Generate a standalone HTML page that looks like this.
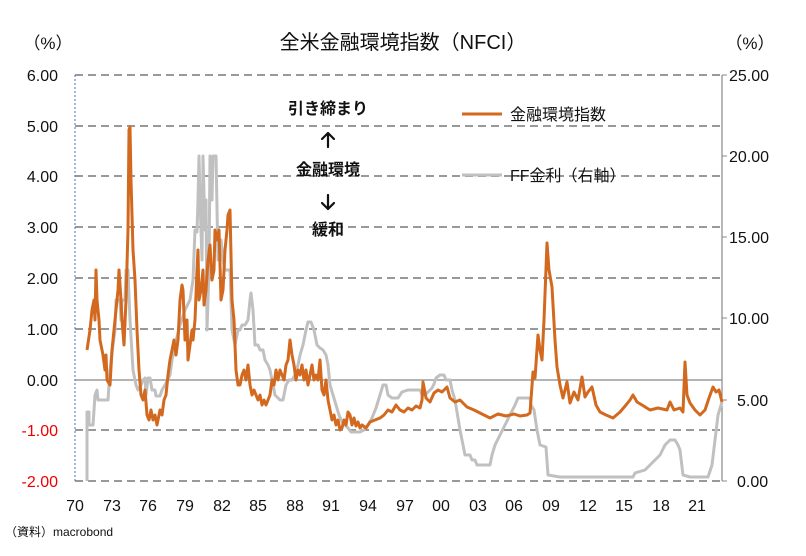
<!DOCTYPE html>
<html><head><meta charset="utf-8"><style>
body{margin:0;background:#fff}
svg{display:block;font-family:"Liberation Sans","Noto Sans CJK JP",sans-serif}
</style></head><body>
<svg width="806" height="556" viewBox="0 0 806 556">
<rect width="806" height="556" fill="#fff"/>
<text x="403" y="49" text-anchor="middle" font-size="20" fill="#111">全米金融環境指数（NFCI）</text>
<text x="48" y="49" text-anchor="middle" font-size="17" fill="#111">（%）</text>
<text x="750" y="49" text-anchor="middle" font-size="17" fill="#111">（%）</text>
<g stroke="#999" stroke-width="2" stroke-dasharray="8,5">
<line x1="75" y1="75" x2="722" y2="75"/><line x1="75" y1="126" x2="722" y2="126"/>
<line x1="75" y1="176" x2="722" y2="176"/><line x1="75" y1="227" x2="722" y2="227"/>
<line x1="75" y1="278" x2="722" y2="278"/><line x1="75" y1="329" x2="722" y2="329"/>
<line x1="75" y1="430" x2="722" y2="430"/><line x1="75" y1="481" x2="722" y2="481"/>
</g>
<line x1="75" y1="380" x2="722" y2="380" stroke="#888" stroke-width="1.2"/>
<line x1="75" y1="75" x2="75" y2="481" stroke="#4472c4" stroke-width="1" stroke-dasharray="2,2"/>
<line x1="722" y1="75" x2="722" y2="481" stroke="#888" stroke-width="1.2"/>
<g stroke="#888"><line x1="722" y1="75" x2="727" y2="75"/><line x1="722" y1="156" x2="727" y2="156"/><line x1="722" y1="237" x2="727" y2="237"/><line x1="722" y1="318" x2="727" y2="318"/><line x1="722" y1="400" x2="727" y2="400"/><line x1="722" y1="481" x2="727" y2="481"/></g>
<g font-size="16" text-anchor="end" fill="#111">
<text x="58" y="81">6.00</text><text x="58" y="132">5.00</text><text x="58" y="182">4.00</text><text x="58" y="233">3.00</text><text x="58" y="284">2.00</text><text x="58" y="335">1.00</text><text x="58" y="386">0.00</text><text x="58" y="436" fill="#e00">-1.00</text><text x="58" y="487" fill="#e00">-2.00</text>
</g>
<g font-size="16" fill="#111">
<text x="729" y="81">25.00</text><text x="729" y="162">20.00</text><text x="729" y="243">15.00</text><text x="729" y="324">10.00</text><text x="737" y="406">5.00</text><text x="737" y="487">0.00</text>
</g>
<g font-size="16" text-anchor="middle" fill="#111">
<text x="75" y="511">70</text><text x="112" y="511">73</text><text x="148" y="511">76</text><text x="185" y="511">79</text><text x="222" y="511">82</text><text x="258" y="511">85</text><text x="295" y="511">88</text><text x="331" y="511">91</text><text x="368" y="511">94</text><text x="405" y="511">97</text><text x="441" y="511">00</text><text x="478" y="511">03</text><text x="514" y="511">06</text><text x="551" y="511">09</text><text x="588" y="511">12</text><text x="624" y="511">15</text><text x="661" y="511">18</text><text x="697" y="511">21</text>
</g>
<text x="5" y="536" font-size="12" fill="#111">（資料）macrobond</text>
<polyline fill="none" stroke="#c0c0c0" stroke-width="3" stroke-linejoin="round" points="87,481 87,412 89,412 89,425 93,425 95,395 97,390 98,400 108,400 110,370 113,345 115,330 116,300 120,300 121,320 122,300 125,300 126,270 128,270 130,320 133,370 136,385 138,390 141,385 143,380 145,378 146,395 148,378 150,378 152,390 155,390 156,396 160,396 162,390 165,385 170,375 172,360 175,345 180,325 185,310 190,300 193,280 195,230 197,232 198,200 199,156 200,200 202,260 203,156 205,230 206,200 207,330 209,270 210,156 212,200 213,156 216,156 218,260 221,240 223,260 225,270 230,270 232,330 235,345 238,330 240,330 242,325 245,325 248,320 250,300 251,293 253,310 255,345 258,345 260,350 263,350 265,360 268,365 270,370 272,380 275,395 280,400 283,400 286,385 289,380 292,380 295,375 298,365 300,355 303,345 306,330 308,322 311,322 314,330 317,345 320,348 323,350 326,355 328,365 330,385 333,395 336,405 339,415 342,422 345,425 348,428 351,432 360,432 364,430 368,425 372,418 376,408 380,395 383,385 386,385 388,395 392,398 398,398 402,392 408,390 420,390 422,395 425,395 428,392 432,388 434,384 436,378 440,375 444,375 446,380 450,380 452,390 455,400 460,430 465,455 470,455 472,460 475,460 477,465 490,465 492,455 495,445 500,435 505,425 510,415 515,405 518,398 530,398 531,405 534,410 537,430 540,445 546,447 548,475 560,477 633,477 635,473 645,470 650,465 655,460 660,455 665,445 670,440 675,440 678,445 680,450 683,475 690,477 708,477 712,465 715,440 718,415 722,402"/>
<polyline fill="none" stroke="#d2691e" stroke-width="3" stroke-linejoin="round" points="87,350 90,330 92,310 94,300 95,320 96,270 97,300 99,320 100,340 103,355 105,370 106,355 107,380 110,385 112,350 114,330 116,310 118,290 119,270 121,300 122,320 124,345 126,300 128,230 129,130 130,127 131,180 133,250 135,280 137,330 139,370 141,395 143,400 145,390 147,415 149,420 151,410 153,420 155,415 157,425 160,410 162,415 164,400 166,395 168,375 170,360 172,350 174,340 176,355 178,340 180,300 182,285 183,290 185,340 187,320 188,360 190,345 192,330 193,340 195,320 197,270 198,250 199,300 201,290 203,270 204,305 206,290 208,260 210,245 212,280 214,270 215,230 217,240 219,230 221,300 223,290 225,250 227,230 228,215 230,210 232,300 234,320 236,370 238,385 240,385 242,375 244,370 246,380 248,365 250,385 252,395 254,390 256,395 258,400 260,395 262,405 264,400 266,405 268,400 270,395 272,380 274,385 276,370 278,380 280,370 282,375 284,380 286,365 288,360 290,340 292,355 294,365 296,380 298,370 300,375 302,365 304,380 306,370 308,385 310,375 312,365 314,380 316,375 318,380 320,360 322,390 324,395 326,380 328,400 330,410 332,420 334,415 336,425 338,420 340,430 342,428 344,420 346,425 348,412 350,415 352,425 354,418 356,426 358,422 360,428 362,425 366,428 370,422 375,420 380,418 384,415 388,410 392,412 396,405 400,410 404,412 408,408 412,410 416,406 420,408 422,400 423,382 426,398 430,402 434,393 438,390 442,392 447,387 450,398 455,402 460,400 467,407 474,410 482,414 490,418 498,414 506,416 514,414 520,416 527,415 530,413 533,372 535,378 538,335 540,350 542,360 544,320 547,243 549,270 552,287 555,340 557,367 560,385 563,398 565,390 567,382 570,403 574,392 578,400 582,377 585,397 588,392 592,387 596,405 600,412 606,415 613,418 620,412 626,405 630,400 633,395 637,402 642,405 650,410 658,408 667,410 670,402 674,410 680,408 683,412 685,362 687,395 690,403 695,410 700,415 705,410 709,398 713,387 716,392 719,390 722,402"/>
<line x1="462" y1="114" x2="502" y2="114" stroke="#d2691e" stroke-width="3"/>
<text x="510" y="120" font-size="16" fill="#111">金融環境指数</text>
<line x1="462" y1="175" x2="502" y2="175" stroke="#c0c0c0" stroke-width="3"/>
<text x="510" y="181" font-size="16" fill="#111">FF金利（右軸）</text>
<g font-size="16" font-weight="bold" text-anchor="middle" fill="#111">
<text x="328" y="114">引き締まり</text>
<text x="328" y="175">金融環境</text>
<text x="328" y="235">緩和</text>
</g>
<g fill="none" stroke="#111" stroke-width="2.2" stroke-linecap="round" stroke-linejoin="round">
<path d="M328,147 V133 M322,139 L328,133 L334,139"/>
<path d="M328,195 V209 M322,203 L328,209 L334,203"/>
</g>
</svg>
</body></html>
